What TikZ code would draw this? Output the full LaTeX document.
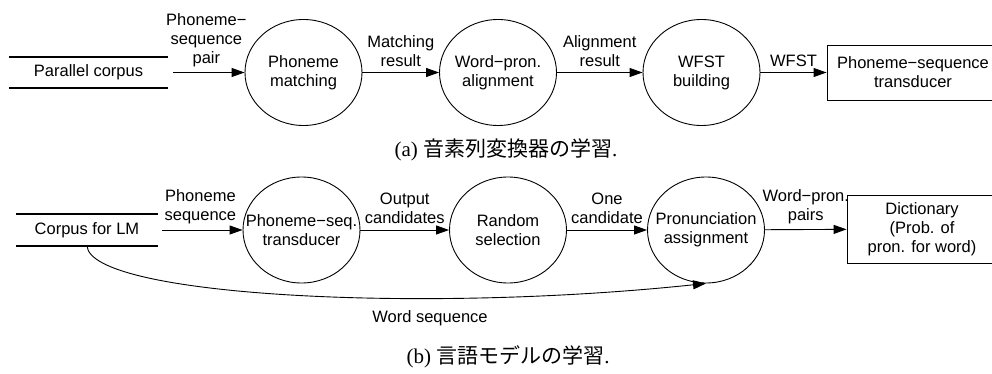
\documentclass[tikz,border=0pt]{standalone}
\usepackage{fontspec}
\setmainfont{Liberation Sans}
\newfontfamily\capfont{Liberation Serif}
\newfontfamily\jpfont{Noto Sans CJK JP}
\usetikzlibrary{shapes.geometric,arrows.meta}

\tikzset{
  proc/.style={draw, ellipse, line width=0.9pt, minimum width=117, minimum height=106, inner xsep=-30pt, inner ysep=0pt, align=center},
  store/.style={inner sep=0pt, align=center},
  outbox/.style={draw, rectangle, line width=0.9pt, inner sep=0pt, align=center},
  flow/.style={line width=0.9pt, -{Triangle[length=13pt,width=9pt]}},
  lbl/.style={midway, above=5.5pt, align=center, inner sep=0pt},
  caption/.style={font=\fontsize{21}{25}\selectfont},
}

\begin{document}
\begin{tikzpicture}[x=1pt, y=-1pt, font=\fontsize{16.5}{19}\selectfont]
      \useasboundingbox (0,0) rectangle (992,374) ;
      % (a)
      \node[store, minimum width=159, minimum height=31] (corpusA) at (88.5,72.5) {Parallel corpus} ;
      \draw[line width=2.2pt] (corpusA.north west) -- (corpusA.north east)
        (corpusA.south west) -- (corpusA.south east) ;
      \node[proc] (match) at (303.5,72.5) {Phoneme\\matching} ;
      \node[proc] (align) at (498,72.5) {Word−pron.\\alignment} ;
      \node[proc] (build) at (701.5,72.5) {WFST\\building} ;
      \node[outbox, minimum width=172, minimum height=55] (trans) at (913,72.5) {Phoneme−sequence\\transducer} ;
      \draw[flow, shorten <=5pt] (corpusA) -- (match) node[lbl]{Phoneme−\\sequence\\pair} ;
      \draw[flow] (match) -- (align) node[lbl]{Matching\\result} ;
      \draw[flow] (align) -- (build) node[lbl]{Alignment\\result} ;
      \draw[flow] (build) -- (trans) node[lbl]{WFST} ;
      \node[caption] (capA) at (506,150) {\capfont (a)\ \jpfont 音素列変換器の学習\capfont .} ;
      % (b)
      \node[store, minimum width=142, minimum height=32] (corpusB) at (87,230) {Corpus for LM} ;
      \draw[line width=2.2pt] (corpusB.north west) -- (corpusB.north east)
        (corpusB.south west) -- (corpusB.south east) ;
      \node[proc] (pst) at (301.5,230) {Phoneme−seq.\\transducer} ;
      \node[proc] (rand) at (508,230) {Random\\selection} ;
      \node[proc] (pron) at (706,230) {Pronunciation\\assignment} ;
      \node[outbox, minimum width=150, minimum height=68] (dict) at (922,229) {Dictionary\\(Prob. of\\pron. for word)} ;
      \draw[flow, shorten <=4pt] (corpusB) -- (pst) node[lbl]{Phoneme\\sequence} ;
      \draw[flow] (pst) -- (rand) node[lbl]{Output\\candidates} ;
      \draw[flow] (rand) -- (pron) node[lbl]{One\\candidate} ;
      \draw[flow] (pron) -- (dict) node[lbl]{Word−pron.\\pairs} ;
      \draw[flow] (corpusB.south) .. controls +(5,50) and +(-284,30) .. (pron.south) ;
      \node (wseq) at (430,318) {Word sequence} ;
      \node[caption] (capB) at (508,357) {\capfont (b)\ \jpfont 言語モデルの学習\capfont .} ;
\end{tikzpicture}
\end{document}
